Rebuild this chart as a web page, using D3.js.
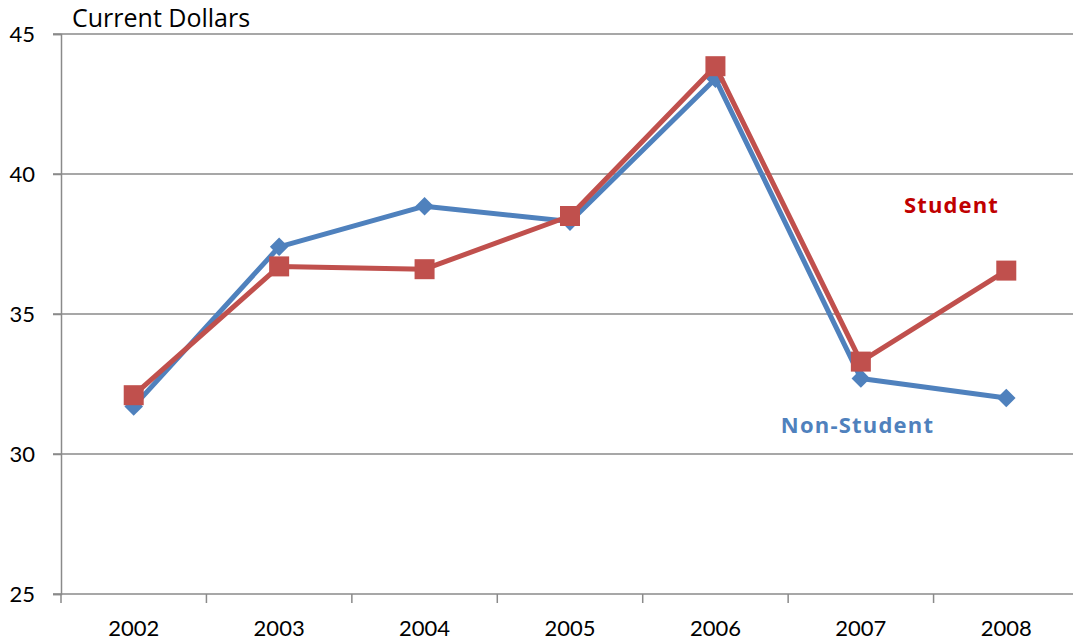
<!DOCTYPE html>
<html lang="en">
<head>
<meta charset="UTF-8"/>
<title>Current Dollars</title>
<script src="https://d3js.org/d3.v7.min.js"></script>
<style>
  body { margin: 0; background: white; }
  text { font-family: Lato, "Open Sans", sans-serif; }
  .word { font-family: "Open Sans", sans-serif; }
</style>
</head>
<body>
<script>
// data
var years = ["2002", "2003", "2004", "2005", "2006", "2007", "2008"];
var nonStudent = [31.7, 37.4, 38.85, 38.3, 43.4, 32.7, 32.0];
var student = [32.1, 36.7, 36.6, 38.5, 43.85, 33.3, 36.55];
var yTicks = [25, 30, 35, 40, 45];

var w = 1073, h = 643;
var mLeft = 61, mRight = 1079, mTop = 34, mBottom = 594;

var svg = d3.select("body").append("svg")
    .attr("width", w)
    .attr("height", h);

var x = d3.scaleBand().domain(years).range([mLeft, mRight]);
var y = d3.scaleLinear().domain([25, 45]).range([mBottom, mTop]);

// gridlines
svg.selectAll("line.grid")
    .data(yTicks.slice(1))
    .enter().append("line")
    .attr("x1", mLeft - 8).attr("x2", w)
    .attr("y1", function(d){ return y(d); })
    .attr("y2", function(d){ return y(d); })
    .style("stroke", "#8a8a8a")
    .style("stroke-width", 1.5);

// y axis
var yAxis = svg.append("g")
    .attr("transform", "translate(" + mLeft + ",0)")
    .call(d3.axisLeft(y).tickValues(yTicks).tickSize(8).tickPadding(18));
yAxis.select(".domain").style("stroke", "#8a8a8a").style("stroke-width", 1.5);
yAxis.selectAll(".tick line").style("stroke", "#8a8a8a").style("stroke-width", 1.5);
yAxis.selectAll("text").style("font-size", "22px").style("fill", "#000")
    .style("font-family", "Lato, sans-serif");

// x axis with ticks between categories
var xAxis = svg.append("g")
    .attr("transform", "translate(0," + mBottom + ")");
xAxis.append("line")
    .attr("x1", mLeft - 8).attr("x2", w)
    .style("stroke", "#8a8a8a").style("stroke-width", 1.5);
xAxis.selectAll("line.tk")
    .data(years)
    .enter().append("line")
    .attr("x1", function(d){ return x(d); })
    .attr("x2", function(d){ return x(d); })
    .attr("y1", 0).attr("y2", 9)
    .style("stroke", "#8a8a8a").style("stroke-width", 1.5);
xAxis.selectAll("text")
    .data(years)
    .enter().append("text")
    .attr("x", function(d){ return x(d) + x.bandwidth() / 2; })
    .attr("y", 42)
    .attr("text-anchor", "middle")
    .style("font-size", "22px")
    .text(function(d){ return d; });

svg.append("text")
    .attr("class", "word")
    .attr("x", 72).attr("y", 27)
    .style("font-size", "25px")
    .text("Current Dollars");

var line = d3.line()
    .x(function(d, i){ return x(years[i]) + x.bandwidth() / 2; })
    .y(function(d){ return y(d); });

// non-student
svg.append("path")
    .datum(nonStudent)
    .attr("d", line)
    .style("fill", "none")
    .style("stroke", "#4F81BD")
    .style("stroke-width", 5)
    .style("stroke-linejoin", "round");

svg.selectAll("path.dia")
    .data(nonStudent)
    .enter().append("path")
    .attr("d", d3.symbol().type(d3.symbolDiamond2).size(220))
    .attr("transform", function(d, i){
        return "translate(" + (x(years[i]) + x.bandwidth() / 2) + "," + y(d) + ")";
    })
    .style("fill", "#4F81BD");

// student
svg.append("path")
    .datum(student)
    .attr("d", line)
    .style("fill", "none")
    .style("stroke", "#C0504D")
    .style("stroke-width", 5)
    .style("stroke-linejoin", "round");

svg.selectAll("rect.sq")
    .data(student)
    .enter().append("rect")
    .attr("x", function(d, i){ return x(years[i]) + x.bandwidth() / 2 - 10; })
    .attr("y", function(d){ return y(d) - 10; })
    .attr("width", 20).attr("height", 20)
    .style("fill", "#C0504D");

svg.append("text")
    .attr("class", "word")
    .attr("x", 951.5).attr("y", 213)
    .attr("text-anchor", "middle")
    .style("font-size", "22px")
    .style("font-weight", "bold")
    .style("letter-spacing", "1.1px")
    .style("fill", "#C00000")
    .text("Student");

svg.append("text")
    .attr("class", "word")
    .attr("x", 857.5).attr("y", 433)
    .attr("text-anchor", "middle")
    .style("font-size", "22px")
    .style("font-weight", "bold")
    .style("letter-spacing", "1.2px")
    .style("fill", "#4F81BD")
    .text("Non-Student");
</script>
</body>
</html>
